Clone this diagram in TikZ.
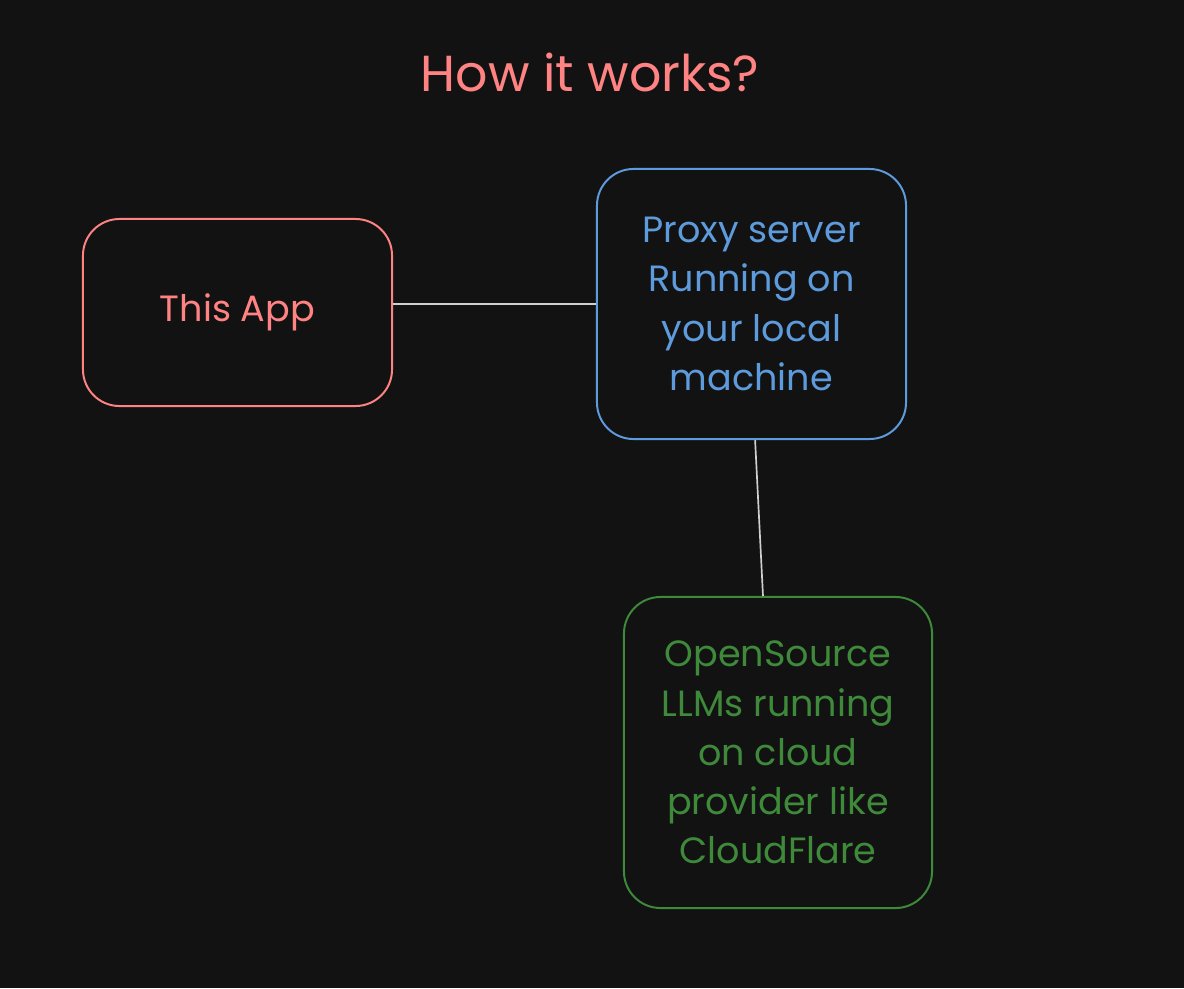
\documentclass[tikz,border=0pt]{standalone}
\usepackage{fontspec}
\setmainfont{Poppins}
\usepackage{tikz}
\usepackage{xcolor}

\definecolor{bgdark}{HTML}{121212}
\definecolor{salmon}{HTML}{FF8383}
\definecolor{skyblue}{HTML}{5E9BDC}
\definecolor{leafgreen}{HTML}{3E8A3A}
\definecolor{wire}{HTML}{D0D0D0}

\begin{document}
\begin{tikzpicture}[x=0.025cm, y=-0.025cm,
    box/.style={draw, line width=1.4pt, rounded corners=26pt, align=center, inner sep=0pt},
    boxtext/.style={font=\fontsize{26}{35}\selectfont}]
        \fill[bgdark] (0,0) rectangle (1184,988);
        \useasboundingbox (0,0) rectangle (1184,988);
        \node[text=salmon, font=\fontsize{36}{40}\selectfont] (title) at (590,72) {How it works?};
        \node[box, boxtext, draw=salmon, text=salmon, minimum width=7.725cm, minimum height=4.675cm] (app) at (237.5,312.5) {\raisebox{-4pt}{This App}};
        \node[box, boxtext, draw=skyblue, text=skyblue, minimum width=7.725cm, minimum height=6.75cm] (proxy) at (751.5,304) {Proxy server\\Running on\\your local\\machine};
        \node[box, boxtext, draw=leafgreen, text=leafgreen, minimum width=7.7cm, minimum height=7.775cm] (llm) at (778,752.5) {OpenSource\\LLMs running\\on cloud\\provider like\\CloudFlare};
        \draw[wire, line width=1.2pt] (proxy.west -| app.east) -- (proxy.west);
        \draw[wire, line width=1.2pt] ([xshift=0.09cm]proxy.south) -- ([xshift=-0.375cm]llm.north);
    \end{tikzpicture}
\end{document}
